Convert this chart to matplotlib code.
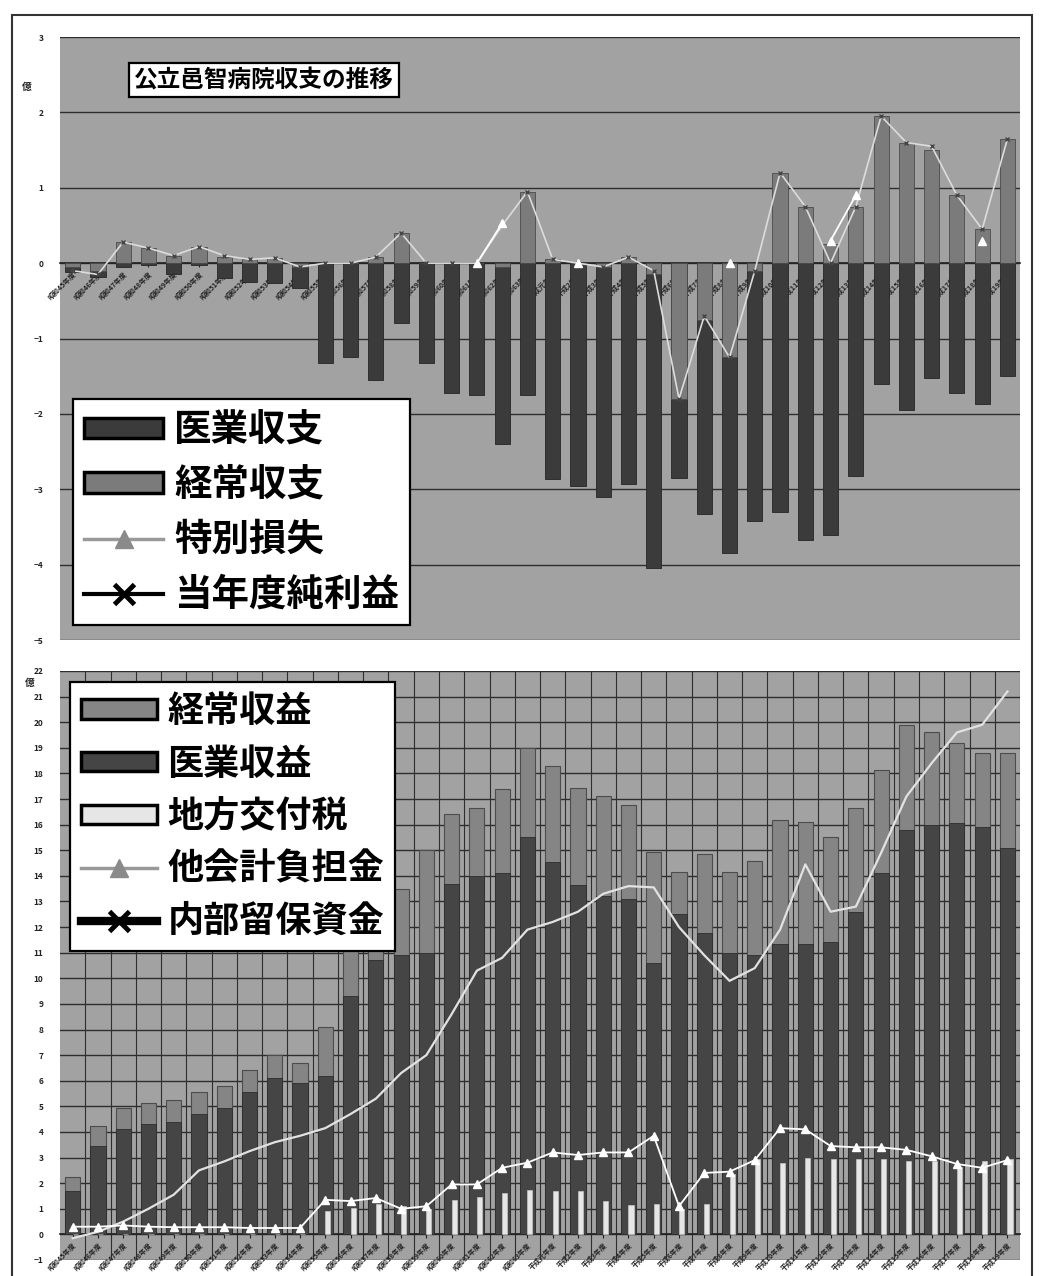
import numpy as np
import matplotlib
matplotlib.use('Agg')
import matplotlib.pyplot as plt
from matplotlib.lines import Line2D
from matplotlib.patches import Patch, Rectangle

plt.rcParams['font.family'] = ['Noto Sans CJK JP', 'DejaVu Sans']

nan = np.nan

# fiscal years (38 categories)
years = (['昭和%d年度' % y for y in range(45, 64)] + ['平成元年度']
         + ['平成%d年度' % y for y in range(2, 20)])

# --- upper chart: balance (億円) ---
medical_balance = [-0.12, -0.18, -0.05, -0.03, -0.15, -0.03, -0.2, -0.25, -0.27, -0.33,
                   -1.33, -1.24, -1.55, -0.8, -1.33, -1.72, -1.75, -2.4, -1.75, -2.87,
                   -2.95, -3.1, -2.93, -4.05, -2.85, -3.33, -3.85, -3.42, -3.3, -3.67,
                   -3.6, -2.83, -1.6, -1.95, -1.53, -1.72, -1.87, -1.5]
ordinary_balance = [-0.05, -0.1, 0.28, 0.2, 0.1, 0.22, 0.08, 0.05, 0.07, -0.05,
                    0.0, 0.02, 0.08, 0.4, 0.0, 0.02, 0.0, -0.05, 0.95, 0.05,
                    0.0, -0.05, 0.08, -0.15, -1.8, -0.75, -1.25, -0.1, 1.2, 0.75,
                    0.25, 0.75, 1.95, 1.6, 1.5, 0.9, 0.45, 1.65]
special_loss = [nan] * 16 + [0.0, 0.53, nan, nan, 0.0] + [nan] * 5 + [0.0] + [nan] * 3 \
               + [0.3, 0.9] + [nan] * 4 + [0.3, nan]
net_profit = [-0.1, -0.15, 0.28, 0.2, 0.1, 0.22, 0.1, 0.05, 0.07, -0.05,
              0.0, 0.0, 0.08, 0.4, 0.0, 0.0, 0.0, 0.5, 0.95, 0.05,
              0.0, -0.05, 0.08, -0.1, -1.8, -0.7, -1.25, -0.1, 1.2, 0.75,
              0.0, 0.75, 1.95, 1.6, 1.55, 0.9, 0.45, 1.65]

# --- lower chart: revenue (億円) ---
ordinary_revenue = [2.25, 4.25, 4.95, 5.15, 5.25, 5.55, 5.8, 6.4, 7.0, 6.7,
                    8.1, 11.2, 12.5, 13.5, 15.0, 16.4, 16.65, 17.4, 19.0, 18.3,
                    17.45, 17.1, 16.75, 14.95, 14.15, 14.85, 14.15, 14.6, 16.2, 16.1,
                    15.5, 16.65, 18.15, 19.9, 19.6, 19.2, 18.8, 18.8]
medical_revenue = [1.7, 3.45, 4.1, 4.3, 4.4, 4.7, 4.95, 5.55, 6.1, 5.9,
                   6.2, 9.3, 10.7, 10.9, 11.0, 13.7, 14.0, 14.1, 15.5, 14.55,
                   13.65, 13.2, 13.1, 10.6, 12.5, 11.75, 11.0, 10.9, 11.35, 11.35,
                   11.4, 12.6, 14.1, 15.8, 16.0, 16.05, 15.9, 15.1]
local_tax = [0] * 10 + [0.9, 1.05, 1.2, 1.1, 1.0, 1.35, 1.45, 1.6, 1.75, 1.7,
                        1.7, 1.3, 1.15, 1.2, 1.0, 1.2, 2.35, 2.95, 2.8, 3.0,
                        2.95, 2.95, 2.95, 2.85, 2.85, 2.65, 2.85, 2.95]
other_burden = [0.3, 0.3, 0.35, 0.3, 0.28, 0.28, 0.28, 0.25, 0.25, 0.25,
                1.35, 1.3, 1.42, 1.0, 1.1, 1.95, 1.95, 2.6, 2.8, 3.2,
                3.1, 3.2, 3.2, 3.85, 1.1, 2.4, 2.45, 2.9, 4.15, 4.1,
                3.45, 3.4, 3.4, 3.3, 3.05, 2.75, 2.6, 2.9]
reserve_funds = [-0.15, 0.1, 0.5, 1.0, 1.55, 2.5, 2.85, 3.25, 3.6, 3.85,
                 4.15, 4.7, 5.3, 6.3, 7.0, 8.6, 10.3, 10.8, 11.9, 12.2,
                 12.6, 13.3, 13.6, 13.55, 12.0, 10.9, 9.9, 10.4, 11.9, 14.45,
                 12.6, 12.8, 14.9, 17.1, 18.4, 19.6, 19.9, 21.2]

bg = '#a2a2a2'
dark = '#3b3b3b'
mid = '#7b7b7b'
light = '#e6e6e6'
grid_c = '#2e2e2e'

x = np.arange(len(years))

fig = plt.figure(figsize=(10.55, 12.76), dpi=100)
ax1 = fig.add_axes([0.0569, 0.4984, 0.910, 0.4726])
ax2 = fig.add_axes([0.0569, 0.01254, 0.910, 0.4616])


def style_axes(ax, lo, hi):
    ax.set_facecolor(bg)
    ax.set_xlim(-0.5, len(years) - 0.5)
    ax.set_ylim(lo, hi)
    ax.set_yticks(range(lo, hi + 1))
    ax.yaxis.grid(True, color=grid_c, lw=1.0)
    ax.set_axisbelow(True)
    for s in ['left', 'right', 'top']:
        ax.spines[s].set_visible(False)
    ax.spines['bottom'].set_position(('data', 0))
    ax.spines['bottom'].set_color('#222222')
    ax.spines['bottom'].set_linewidth(1.2)
    ax.set_xticks(x)
    ax.set_xticklabels(years, rotation=45, ha='right', rotation_mode='anchor',
                       fontsize=5, fontweight='bold', color='#222222')
    ax.tick_params(axis='x', length=3, color='#222222', pad=2)
    ax.tick_params(axis='y', length=0, pad=12, labelsize=6, labelcolor='#222222')
    for t in ax.get_yticklabels():
        t.set_fontweight('bold')


# upper chart
style_axes(ax1, -5, 3)
ax1.bar(x, medical_balance, 0.6, color=dark, edgecolor='#262626', lw=0.6, zorder=2)
ax1.bar(x, ordinary_balance, 0.6, color=mid, edgecolor='#4a4a4a', lw=0.6, zorder=3)
ax1.plot(x, net_profit, color='#dcdcdc', lw=1.2, marker='x', ms=3.5, mec='#444444',
         mew=1.0, zorder=5)
ax1.plot(x, special_loss, color='white', lw=1.3, marker='^', ms=6, mfc='white',
         mec='white', zorder=6)

ax1.text(0.2125, 0.9287, '公立邑智病院収支の推移', transform=ax1.transAxes,
         ha='center', va='center', fontsize=17, fontweight='bold', zorder=10,
         bbox=dict(boxstyle='square,pad=0.22', fc='white', ec='black', lw=1.6))

h1 = [Patch(fc=dark, ec='black', lw=2.5),
      Patch(fc=mid, ec='black', lw=2.5),
      Line2D([], [], color='#999999', lw=2.5, marker='^', ms=13, mfc='#8a8a8a', mec='#8a8a8a'),
      Line2D([], [], color='black', lw=3, marker='x', ms=14, mew=3.5)]
leg1 = ax1.legend(h1, ['医業収支', '経常収支', '特別損失', '当年度純利益'],
                  loc='upper left', bbox_to_anchor=(0.0135, 0.40),
                  prop={'size': 27, 'weight': 'bold'},
                  fancybox=False, edgecolor='black', framealpha=1,
                  handlelength=2.1, handleheight=0.45, labelspacing=0.42,
                  borderpad=0.3, handletextpad=0.3, borderaxespad=0)
leg1.get_frame().set_linewidth(1.6)
leg1.set_zorder(20)

# lower chart
style_axes(ax2, -1, 22)
ax2.set_xticks(x + 0.5, minor=True)
ax2.xaxis.grid(True, which='minor', color=grid_c, lw=0.8)
ax2.tick_params(axis='x', which='minor', length=0)
ax2.bar(x, ordinary_revenue, 0.6, color='#858585', edgecolor='#4c4c4c', lw=0.8, zorder=2)
ax2.bar(x, medical_revenue, 0.6, color='#454545', edgecolor='#2c2c2c', lw=0.6, zorder=3)
ax2.bar(x + 0.1, local_tax, 0.2, color=light, edgecolor='#cfcfcf', lw=0.4, zorder=4)
ax2.plot(x, reserve_funds, color='#e2e2e2', lw=1.6, zorder=5)
ax2.plot(x, other_burden, color='white', lw=1.3, marker='^', ms=6, mfc='white',
         mec='white', zorder=6)

h2 = [Patch(fc='#858585', ec='black', lw=2.5),
      Patch(fc='#454545', ec='black', lw=2.5),
      Patch(fc=light, ec='black', lw=2.5),
      Line2D([], [], color='#999999', lw=2.5, marker='^', ms=13, mfc='#8a8a8a', mec='#8a8a8a'),
      Line2D([], [], color='black', lw=6, marker='x', ms=14, mew=3.5)]
leg2 = ax2.legend(h2, ['経常収益', '医業収益', '地方交付税', '他会計負担金', '内部留保資金'],
                  loc='upper left', bbox_to_anchor=(0.0104, 0.981),
                  prop={'size': 26, 'weight': 'bold'},
                  fancybox=False, edgecolor='black', framealpha=1,
                  handlelength=2.1, handleheight=0.45, labelspacing=0.43,
                  borderpad=0.3, handletextpad=0.3, borderaxespad=0)
leg2.get_frame().set_linewidth(1.6)
leg2.set_zorder(20)

# unit labels
fig.text(27 / 1055, 1 - 87 / 1276, '億', fontsize=7, fontweight='bold',
         ha='center', va='center', color='#222222')
fig.text(30 / 1055, 1 - 683 / 1276, '億', fontsize=7, fontweight='bold',
         ha='center', va='center', color='#222222')

# outer frame
fig.add_artist(Rectangle((0.0114, -0.01), 0.9668, 0.9982, transform=fig.transFigure,
                         fill=False, lw=1.5, ec='#333333'))

fig.savefig('out.png', dpi=100)
